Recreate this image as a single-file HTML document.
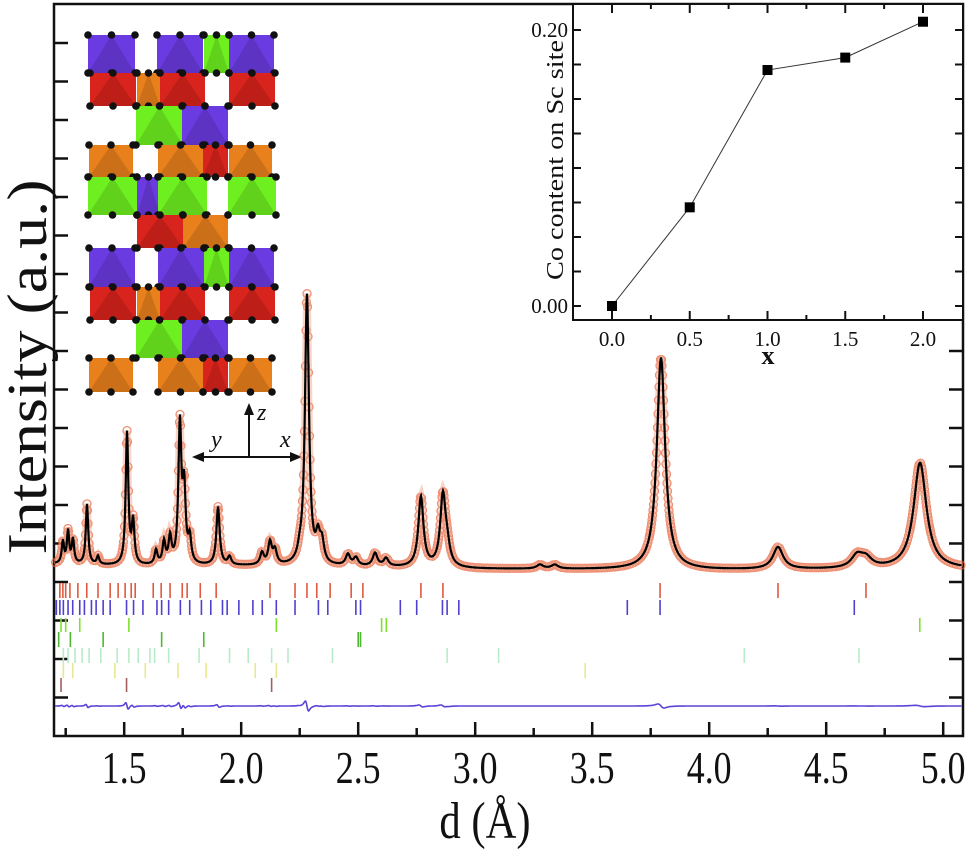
<!DOCTYPE html>
<html><head><meta charset="utf-8"><style>
html,body{margin:0;padding:0;background:#fff}
svg{display:block}
text{font-family:"Liberation Serif","Times New Roman",serif;fill:#111}
</style></head><body>
<svg id="chart" width="975" height="852" viewBox="0 0 975 852" xmlns="http://www.w3.org/2000/svg" font-family="Liberation Serif, serif">
<g id="structure"></g>
<g id="main"></g>
<g id="inset"></g>
</svg>
<script>
// ---- main pattern data ----
const peakD = [1.238,1.260,1.281,1.341,1.388,1.512,1.538,1.636,1.670,1.696,1.738,1.756,1.78,1.901,1.95,2.089,2.123,2.144,2.25,2.281,2.328,2.345,2.456,2.49,2.572,2.619,2.768,2.862,2.88,3.277,3.34,3.794,4.294,4.632,4.67,4.901];
const peakH = [22,32,24,60,8,132,42,14,22,26,138,72,24,58,8,12,22,14,8,270,24,20,11,8,13,8,70,70,16,4,4,212,22,12,9,106];
const bgD = [1.2,1.5,2.0,2.5,3.0,4.0,5.1];
const bgI = [8,6,6,5,3,2,3];
const xTicks = [1.5,2.0,2.5,3.0,3.5,4.0,4.5,5.0];
const xTickLabels = ["1.5","2.0","2.5","3.0","3.5","4.0","4.5","5.0"];
const tickRed = [1.225,1.238,1.25,1.268,1.302,1.34,1.388,1.44,1.474,1.504,1.53,1.547,1.624,1.658,1.696,1.748,1.769,1.825,1.893,2.123,2.23,2.281,2.323,2.38,2.47,2.52,2.768,2.862,3.79,4.294,4.67];
const tickBlue = [1.21,1.225,1.24,1.26,1.28,1.31,1.33,1.36,1.38,1.41,1.44,1.51,1.54,1.58,1.64,1.66,1.69,1.74,1.78,1.83,1.87,1.92,1.94,1.99,2.05,2.09,2.15,2.23,2.33,2.37,2.49,2.51,2.68,2.75,2.86,2.88,2.93,3.65,3.79,4.62];
const tickGreen1 = [1.23,1.25,1.31,1.52,2.15,2.6,2.62,4.9];
const tickGreen2 = [1.22,1.27,1.41,1.66,1.84,2.5,2.51];
const tickLight = [1.24,1.26,1.29,1.32,1.35,1.4,1.47,1.52,1.56,1.61,1.63,1.69,1.82,1.95,2.03,2.13,2.2,2.39,2.88,3.1,4.15,4.64];
const tickYellow = [1.24,1.28,1.46,1.59,1.73,1.85,2.06,2.15,3.47];
const tickRow7 = [1.23,1.51,2.13];
// ---- inset data ----
const insetX = [0.0,0.5,1.0,1.5,2.0];
const insetY = [0.0,0.0715,0.171,0.180,0.206];
const insetXTicks = [0.0,0.5,1.0,1.5,2.0];
const insetYTicks = [0.00,0.20];
const insetYTickLabels = ["0.00","0.20"];

const NS="http://www.w3.org/2000/svg";
const FF='Liberation Serif, serif';
function mk(tag,attrs,parent){const e=document.createElementNS(NS,tag);for(const k in attrs)e.setAttribute(k,attrs[k]);if(tag==='text')e.setAttribute('font-family',FF);parent.appendChild(e);return e;}
const main=document.getElementById('main');
const L=54,R=963,T=4,B=736;
const X=d=>54+(d-1.2)*234;
const Y=I=>572-I;
function bg(d){for(let i=0;i<bgD.length-1;i++){if(d<=bgD[i+1]){const t=(d-bgD[i])/(bgD[i+1]-bgD[i]);return bgI[i]+t*(bgI[i+1]-bgI[i]);}}return bgI[bgI.length-1];}
function model(d){let s=bg(d);for(let i=0;i<peakD.length;i++){const w=0.004+0.0012*peakD[i]*peakD[i];const u=(d-peakD[i])/w;s+=peakH[i]/(1+u*u);}return s;}

// frame
const frame=mk('rect',{x:L,y:T,width:R-L,height:B-T,fill:'none',stroke:'#111','stroke-width':2.5},main);

for(let k=1;k<=18;k++){const y=4.5+38.5*k;
 const t1=mk('line',{x1:L,x2:L+14,y1:y,y2:y,stroke:'#111','stroke-width':2.5},main);
 
 const t2=mk('line',{x1:R-14,x2:R,y1:y,y2:y,stroke:'#111','stroke-width':2.5},main);
 }
for(let d=1.25;d<5.1;d+=0.25){const x=X(d);const major=Math.abs(d*2-Math.round(d*2))<1e-6;
 const len=major?14:8;
 const t=mk('line',{x1:x,x2:x,y1:B,y2:B-len,stroke:'#111','stroke-width':2.5},main);
 }
xTicks.forEach((d,i)=>{const t=mk('text',{x:X(d),y:783,'font-size':46,'text-anchor':'middle',transform:`translate(${X(d)},0) scale(0.78,1) translate(${-X(d)},0)`},main);
 t.textContent=xTickLabels[i];});
const xt=mk('text',{x:485,y:838,'font-size':52,'text-anchor':'middle',transform:'translate(485,0) scale(0.82,1) translate(-485,0)'},main);
xt.textContent='d (Å)';
const yt=mk('text',{x:0,y:0,'font-size':56,'text-anchor':'middle',textLength:375,lengthAdjust:'spacingAndGlyphs',transform:'translate(46,367) rotate(-90)'},main);
yt.textContent='Intensity (a.u.)';

// calc points
const pts=[];for(let x=L+1;x<R-1;x+=0.5){const d=1.2+(x-54)/234;pts.push([x,Y(model(d))]);}
// observed circles: sampled by arc length
const obs=mk('g',{fill:'none',stroke:'#e8603c','stroke-width':1.3,opacity:0.7},main);

let acc=99;
for(let i=1;i<pts.length;i++){const dx=pts[i][0]-pts[i-1][0],dy=pts[i][1]-pts[i-1][1];acc+=Math.hypot(dx,dy);
 if(acc>=2.2){acc=0;const c=mk('circle',{cx:pts[i][0],cy:pts[i][1],r:4},obs);
 }}
const band=mk('path',{d:'M'+pts.map(p=>p[0].toFixed(1)+','+p[1].toFixed(1)).join('L'),fill:'none',stroke:'#f0a080','stroke-width':7,opacity:0.45},main);

const cl=mk('path',{d:'M'+pts.map(p=>p[0].toFixed(1)+','+p[1].toFixed(1)).join('L'),fill:'none',stroke:'#000','stroke-width':2.2},main);

// difference
let q='';for(let x=L+1;x<R-1;x+=0.5){const d=1.2+(x-54)/234;const h=0.004;
 const dd=(model(d+h)-model(d-h));q+=(q?'L':'M')+x.toFixed(1)+','+(706-dd*0.04).toFixed(1);}
const dl=mk('path',{d:q,fill:'none',stroke:'#5a44d8','stroke-width':1.6},main);

function rows(arr,y1,y2,color,name){const g=mk('g',{stroke:color,'stroke-width':1.6},main);
 
 arr.forEach(d=>{const l=mk('line',{x1:X(d),x2:X(d),y1:y1,y2:y2},g);
  });}
rows(tickRed,583,598,'#e05a40','reflections-phase1');
rows(tickBlue,600,615,'#5040d0','reflections-phase2');
rows(tickGreen1,618,632,'#80e030','reflections-phase3');
rows(tickGreen2,632,647,'#50b830','reflections-phase4');
rows(tickLight,648,663,'#b8ecc8','reflections-phase5');
rows(tickYellow,663,678,'#e8e890','reflections-phase6');
rows(tickRow7,678,692,'#a06060','reflections-phase7');

// ---- structure ----
const st=document.getElementById('structure');
const C={b:'#6a3be0',r:'#d8241c',o:'#e8801c',g:'#6ef020'};
const blocks=[
[35,73,[[88,135,'b'],[157,203,'b'],[204,229,'g'],[229,274,'b']]],
[73,106,[[90,136,'r'],[137,160,'o'],[160,205,'r'],[229,275,'r']]],
[106,145,[[136,183,'g'],[182,228,'b']]],
[145,177,[[89,133,'o'],[158,203,'o'],[203,228,'r'],[229,272,'o']]],
[177,215,[[88,137,'g'],[137,160,'b'],[158,207,'g'],[228,276,'g']]],
[215,248,[[137,183,'r'],[183,228,'o']]],
[248,287,[[89,135,'b'],[158,204,'b'],[204,229,'g'],[229,274,'b']]],
[287,320,[[90,136,'r'],[137,160,'o'],[160,205,'r'],[229,275,'r']]],
[320,358,[[136,183,'g'],[182,228,'b']]],
[358,392,[[89,133,'o'],[158,203,'o'],[203,228,'r'],[229,272,'o']]]];
blocks.forEach(([y1,y2,cells])=>cells.forEach(([x1,x2,c])=>{
 const r=mk('polygon',{points:`${x1},${y1} ${x2},${y1} ${x2},${y2} ${x1},${y2}`,fill:C[c]},st);
 
 const s=mk('polygon',{points:`${x1},${y2} ${(x1+x2)/2},${y1} ${x2},${y2}`,fill:'#000',opacity:0.12},st);
 
 [[x1,y1],[x2,y1],[x1,y2],[x2,y2],[(x1+x2)/2,y1],[(x1+x2)/2,y2]].forEach(([cx,cy])=>{
  const a=mk('circle',{cx:cx,cy:cy,r:3.8,fill:'#111'},st);
  });}));
const ax=mk('g',{stroke:'#111','stroke-width':2,fill:'#111'},st);

mk('line',{x1:249,y1:457,x2:249,y2:408},ax);
mk('polygon',{points:'249,403 244,415 254,415',stroke:'none'},ax);
mk('line',{x1:198,y1:457,x2:296,y2:457},ax);
mk('polygon',{points:'192,457 204,452 204,462',stroke:'none'},ax);
mk('polygon',{points:'302,457 290,452 290,462',stroke:'none'},ax);
[['y',211,447],['x',280,447],['z',257,420]].forEach(([s,x,y])=>{const t=mk('text',{x:x,y:y,'font-size':24,'font-style':'italic'},st);t.textContent=s;
 });

// ---- inset ----
const ins=document.getElementById('inset');
const IL=573,IR=963,IT=4,IB=320;
const IX=v=>612+v*155.5;
const IY=v=>306-v*1380;
const ibg=mk('rect',{x:IL,y:IT,width:IR-IL,height:IB-IT,fill:'#fff',stroke:'#111','stroke-width':2},ins);

for(let v=-0.25;v<=2.3;v+=0.25){const x=IX(v);if(x<IL+2||x>IR-2)continue;const major=Math.abs(v*2-Math.round(v*2))<1e-6;const len=major?9:5;
 [[IB,IB-len],[IT,IT+len]].forEach(([a,b])=>{const t=mk('line',{x1:x,x2:x,y1:a,y2:b,stroke:'#111','stroke-width':2},ins);
 });}
for(let v=-0.025;v<=0.225;v+=0.025){const y=IY(v);if(y>IB-2||y<IT+2)continue;
 [[IL,IL+8],[IR,IR-8]].forEach(([a,b])=>{const t=mk('line',{x1:a,x2:b,y1:y,y2:y,stroke:'#111','stroke-width':2},ins);
 });}
insetXTicks.forEach(v=>{const t=mk('text',{x:IX(v),y:346,'font-size':21,'text-anchor':'middle'},ins);t.textContent=v.toFixed(1);
 });
insetYTicks.forEach((v,i)=>{const t=mk('text',{x:568,y:IY(v)+7,'font-size':21,'text-anchor':'end'},ins);t.textContent=insetYTickLabels[i];
 });
const ixt=mk('text',{x:768,y:364,'font-size':26,'font-weight':'bold','text-anchor':'middle'},ins);ixt.textContent='x';

const iyt=mk('text',{x:0,y:0,'font-size':24,'text-anchor':'middle',textLength:240,lengthAdjust:'spacingAndGlyphs',transform:'translate(563,160) rotate(-90)'},ins);iyt.textContent='Co content on Sc site';

const il=mk('polyline',{points:insetX.map((v,i)=>IX(v)+','+IY(insetY[i])).join(' '),fill:'none',stroke:'#333','stroke-width':1},ins);

insetX.forEach((v,i)=>{const m=mk('rect',{x:IX(v)-5,y:IY(insetY[i])-5,width:10,height:10,fill:'#000'},ins);
 });
</script>
</body></html>
